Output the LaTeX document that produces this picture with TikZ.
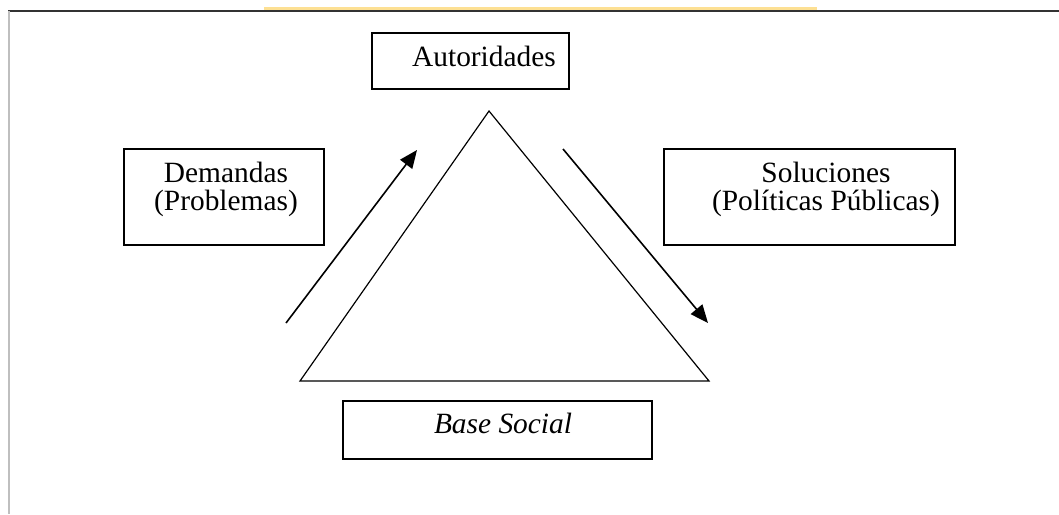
\documentclass[tikz,border=0pt]{standalone}
\usepackage{fontspec}
\setmainfont{Liberation Serif}
\usetikzlibrary{arrows.meta,calc}

\begin{document}
\begin{tikzpicture}[x=0.5pt,y=-0.5pt,
    caja/.style={draw, line width=1pt, inner sep=0pt},
    texto/.style={font=\fontsize{14.7}{14}\selectfont, align=center, inner sep=0pt},
    flecha/.style={-{Triangle[length=9pt,width=7.5pt]}, line width=0.8pt}]
      \useasboundingbox (0,0) rectangle (1059,514);
      % page edges
      \fill[yellow!45!orange!40] (264,7) rectangle (817,10);
      \draw[line width=1.2pt, black!80] (8,11) -- (1059,11);
      \draw[line width=1pt, black!25] (9,11) -- (9,514);
      % boxes
      \node[caja, minimum width=98.5pt, minimum height=28pt] (autCaja) at (470.5,61) {};
      \node[texto, anchor=base] (aut) at (484,66) {Autoridades};
      \node[caja, minimum width=100pt, minimum height=48pt] (demCaja) at (224,197) {};
      \node[texto] (dem) at (226,189) {Demandas\\(Problemas)};
      \node[caja, minimum width=145.5pt, minimum height=48pt] (solCaja) at (809.5,197) {};
      \node[texto] (sol) at (826,189) {Soluciones\\(Políticas Públicas)};
      \node[caja, minimum width=154.5pt, minimum height=29pt] (baseCaja) at (497.5,430) {};
      \node[texto, anchor=base] (base) at (503,433) {\textit{Base Social}};
      % triangle
      \coordinate (apex) at (489,111);
      \coordinate (izq) at (300,381);
      \coordinate (der) at (709,381);
      \draw[line width=0.6pt] (apex) -- (izq) -- (der) -- cycle;
      % arrows
      \coordinate (entraIni) at (286,323);
      \coordinate (entraFin) at (417,150);
      \coordinate (saleIni) at (563,149);
      \coordinate (saleFin) at (708,323);
      \draw[flecha] (entraIni) -- (entraFin);
      \draw[flecha] (saleIni) -- (saleFin);
\end{tikzpicture}
\end{document}
